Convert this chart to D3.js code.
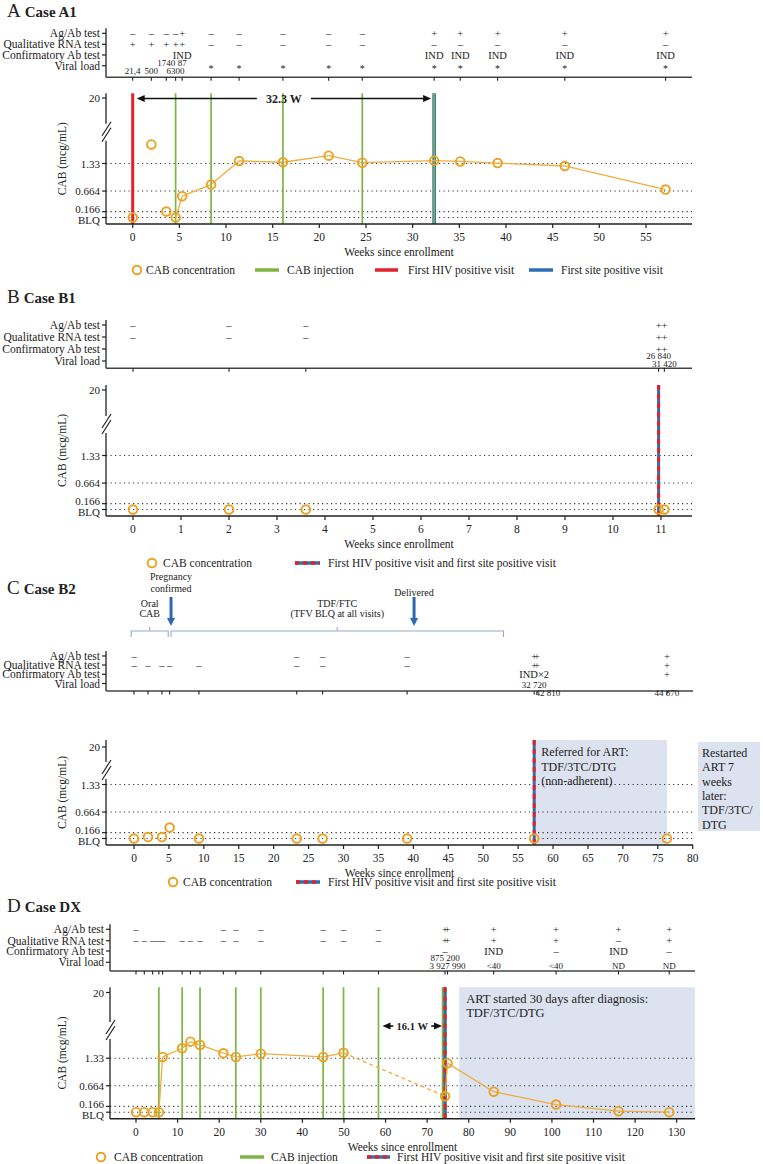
<!DOCTYPE html>
<html><head><meta charset="utf-8">
<script src="https://cdn.jsdelivr.net/npm/d3@7"></script>
<style>
body{margin:0;background:#fff}
text{font-family:"Liberation Serif","Times New Roman",serif;fill:#222}
</style>
</head><body>
<svg id="c" width="763" height="1164"></svg>
<script>
// ---------- shared ----------
const BLQ = 0.025;
const yTickVals = [BLQ, 0.166, 0.664, 1.33, 20];
const yTickLabels = ["BLQ", "0.166", "0.664", "1.33", "20"];
const refLines = [BLQ, 0.166, 0.664, 1.33];
const testRows = ["Ag/Ab test", "Qualitative RNA test", "Confirmatory Ab test", "Viral load"];

// ---------- Case A1 ----------
const A_visits  = [0, 2.0, 3.6, 4.6, 5.3, 8.4, 11.4, 16.1, 21.0, 24.6, 32.3, 35.1, 39.1, 46.3, 57.1];
const A_cab     = [BLQ, 1.79, 0.17, BLQ, 0.54, 0.82, 1.39, 1.36, 1.52, 1.35, 1.40, 1.38, 1.34, 1.27, 0.70];
const A_agab    = ["–","–","–","–","+","–","–","–","–","–","+","+","+","+","+"];
const A_rna     = ["+","+","+","+","+","–","–","–","–","–","–","–","–","–","–"];
const A_confirm = ["","","","","IND","","","","","","IND","IND","IND","IND","IND"];
const A_vl      = ["21,4","500","1740","6300","87","*","*","*","*","*","*","*","*","*","*"];
const A_vlLevel = [1,1,0,1,0,1,1,1,1,1,1,1,1,1,1];
const A_injections = [4.6, 8.4, 16.1, 24.6, 32.3];
const A_firstHIV = [0];
const A_firstSite = [32.3];
const A_xTicks = [0,5,10,15,20,25,30,35,40,45,50,55];
const A_interval = {from: 0, to: 32.3, label: "32.3 W"};

// ---------- Case B1 ----------
const B_visits  = [0, 2, 3.6, 10.95, 11.07];
const B_cab     = [BLQ, BLQ, BLQ, BLQ, BLQ];
const B_agab    = ["–","–","–","+","+"];
const B_rna     = ["–","–","–","+","+"];
const B_confirm = ["","","","+","+"];
const B_vl      = ["","","","26 840","31 420"];
const B_vlLevel = [1,1,1,0,1];
const B_firstBoth = [10.95];
const B_xTicks = [0,1,2,3,4,5,6,7,8,9,10,11];

// ---------- Case B2 ----------
const C_visits  = [0, 2, 4, 5.1, 9.3, 23.3, 27, 39.1, 57.3, 57.7, 76.3];
const C_cab     = [BLQ, 0.06, 0.06, 0.29, BLQ, BLQ, BLQ, BLQ, BLQ, null, BLQ];
const C_agab    = ["–","","","","","–","–","–","+","+","+"];
const C_rna     = ["–","–","–","–","–","–","–","–","+","+","+"];
const C_confirm = ["","","","","","","","","IND×2","","+"];
const C_vl      = ["","","","","","","","","32 720","42 810","44 870"];
const C_vlLevel = [1,1,1,1,1,1,1,1,0,1,1];
const C_vlDx    = [0,0,0,0,0,0,0,0,0,11,0];
const C_firstBoth = [57.3];
const C_xTicks = [0,5,10,15,20,25,30,35,40,45,50,55,60,65,70,75,80];
const C_artPeriod = [57.3, 76.3];
const C_artText = ["Referred for ART:", "TDF/3TC/DTG", "(non-adherent)"];
const C_restartText = ["Restarted", "ART 7", "weeks", "later:", "TDF/3TC/", "DTG"];
const C_periodStart = [-0.4, 5.3];
const C_periodEnd   = [4.9, 52.9];
const C_periodText  = [["Oral","CAB"], ["TDF/FTC","(TFV BLQ at all visits)"]];
const C_eventWeeks  = [5.3, 40.1];
const C_eventText   = [["Pregnancy","confirmed"], ["Delivered"]];

// ---------- Case DX ----------
const D_visits  = [0, 2, 4, 5.5, 6.4, 11.1, 13.1, 15.4, 21, 24, 30, 45, 49.9, 58.3, 74.3, 74.9, 86, 101, 116, 128.2];
const D_cab     = [BLQ, BLQ, BLQ, BLQ, 1.36, 1.57, 1.73, 1.65, 1.45, 1.36, 1.44, 1.36, 1.46, null, 0.41, 1.21, 0.52, 0.21, 0.05, BLQ];
const D_agab    = ["–","","","","","","","","–","–","–","–","–","–","+","+","+","+","+","+"];
const D_rna     = ["–","–","–","–","–","–","–","–","–","–","–","–","–","–","+","+","+","+","–","+"];
const D_confirm = ["","","","","","","","","","","","","","","–","","IND","–","IND","–"];
const D_vl      = ["","","","","","","","","","","","","","","875 200","3 927 990","<40","<40","ND","ND"];
const D_vlLevel = [1,1,1,1,1,1,1,1,1,1,1,1,1,1,0,1,1,1,1,1];
const D_injections = [5.5, 11.1, 15.4, 24, 30, 45, 49.9, 58.3, 74.3];
const D_firstBoth = [74.3];
const D_xTicks = [0,10,20,30,40,50,60,70,80,90,100,110,120,130];
const D_artStart = 77.7;
const D_artText = ["ART started 30 days after diagnosis:", "TDF/3TC/DTG"];
const D_interval = {from: 58.3, to: 74.3, label: "16.1 W"};

// ---------- colours ----------
const COL = {orange:"#EBA11F", oline:"#F1AC3E", green:"#7DB443", red:"#E1222A", blue:"#2D6DB5",
             shade:"#DCE2F0", bracket:"#97A8CC", evArrow:"#2E69B0", axis:"#222", dot:"#333"};

const svg = d3.select("#c");
svg.append("rect").attr("width",763).attr("height",1164).attr("fill","#fff");

function line(g, x1, y1, x2, y2, stroke, w, dash) {
  const l = g.append("line").attr("x1",x1).attr("y1",y1).attr("x2",x2).attr("y2",y2)
    .attr("stroke",stroke).attr("stroke-width",w);
  if (dash) l.attr("stroke-dasharray",dash);
  return l;
}
function text(g, x, y, s, size, anchor, weight) {
  return g.append("text").attr("x",x).attr("y",y).attr("font-size",size)
    .attr("text-anchor",anchor||"start").attr("dominant-baseline","central")
    .attr("font-weight",weight||"normal").text(s);
}
function comboLine(g, X, y1, y2, withGreen) {
  if (withGreen) line(g, X-0.8, y1, X-0.8, y2, COL.green, 5);
  line(g, X, y1, X, y2, COL.blue, 3);
  line(g, X, y1, X, y2, COL.red, 3, "5,4");
}
function arrowHead(g, xTip, yy, dir) {
  g.append("path").attr("d", `M${xTip},${yy} L${xTip-dir*8},${yy-3.5} L${xTip-dir*8},${yy+3.5} Z`).attr("fill","#111");
}
// symbols of close, identical visits are set as one string
function drawSymbols(g, arr, xs, yRow, size) {
  let i = 0;
  while (i < arr.length) {
    if (!arr[i]) { i++; continue; }
    let j = i;
    while (j + 1 < arr.length && arr[j+1] === arr[i] && xs[j+1] - xs[j] < 7.5) j++;
    if (j === i) {
      text(g, xs[i], yRow, arr[i], size, "middle").attr("fill","#111");
    } else {
      const n = j - i + 1;
      const probe = text(g, 0, yRow, arr[i], size, "start");
      const w = probe.node().getComputedTextLength(); probe.remove();
      const gap = (xs[j] - xs[i]) / (n - 1);
      text(g, xs[i] - w/2, yRow, arr[i].repeat(n), size, "start")
        .attr("letter-spacing", (gap - w).toFixed(2)).attr("fill","#111");
    }
    i = j + 1;
  }
}

function drawPanel(P) {
  const g = svg.append("g");
  const x = d3.scaleLinear().domain(P.domain).range([P.x0, P.x1]);
  const L = P.plot;
  const yBLQ = L.bottom - 6.5, y133 = L.bottom - 60.5;
  const slope = (yBLQ - y133) / (1.33 - BLQ);
  const brkVal = 1.33 + (y133 - L.brkY) / slope;
  const y = d3.scaleLinear().domain([BLQ, 1.33, brkVal, 20]).range([yBLQ, y133, L.brkY, L.y20]);

  // title (y = baseline)
  const tt = g.append("text").attr("x",7).attr("y",P.titleY);
  tt.append("tspan").attr("font-size",19).text(P.letter);
  tt.append("tspan").attr("dx",4).attr("font-size",15).attr("font-weight","bold").text(P.name);

  // ---- test table ----
  const T = P.table;
  line(g, P.x0, T.rows[0]-5, P.x0, T.axisY, COL.axis, 1.3);
  line(g, P.x0, T.axisY, P.x1, T.axisY, "#444", 1.6);
  testRows.forEach((lab, i) => {
    line(g, P.x0-4, T.rows[i], P.x0, T.rows[i], COL.axis, 1.2);
    text(g, P.x0-6, T.rows[i], lab, 11.5, "end");
  });
  const xs = P.visits.map(v => x(v));
  P.visits.forEach(v => line(g, x(v), T.axisY, x(v), T.axisY+3.5, COL.axis, 1.1));
  [P.agab, P.rna, P.confirm].forEach((arr, i) => drawSymbols(g, arr, xs, T.rows[i], 10.5));
  P.vl.forEach((s, j) => {
    if (!s) return;
    const dx = P.vlDx ? P.vlDx[j] : 0;
    if (s === "*") text(g, xs[j], T.rows[3]+3, s, 10, "middle").attr("fill","#555");
    else text(g, xs[j] + dx, T.vlY[P.vlLevel[j]], s, 9, "middle").attr("fill","#333");
  });

  // ---- plot ----
  if (P.shade) g.append("rect").attr("x", x(P.shade[0])).attr("y", L.top)
      .attr("width", x(P.shade[1]) - x(P.shade[0])).attr("height", L.bottom - L.top).attr("fill", COL.shade);
  refLines.forEach(v => line(g, P.x0, y(v), P.x1, y(v), COL.dot, 1.1, "1.2,3.3"));

  (P.injections || []).forEach(w => {
    if ((P.firstBoth || []).includes(w)) return;
    if ((P.firstSite || []).includes(w)) line(g, x(w), L.top, x(w), L.bottom, COL.blue, 3.6);
    line(g, x(w), L.top, x(w), L.bottom, COL.green, 1.7);
  });
  (P.firstHIV || []).forEach(w => line(g, x(w), L.top, x(w), L.bottom, COL.red, 3));
  (P.firstBoth || []).forEach(w => comboLine(g, x(w), L.top, L.bottom, (P.injections||[]).includes(w)));

  // CAB line (from first injection onward); dashed across visits without a sample
  if (P.injections && P.injections.length) {
    const first = d3.min(P.injections);
    const idx = P.visits.map((v, i) => i).filter(i => P.visits[i] >= first && P.cab[i] !== null);
    for (let k = 0; k < idx.length - 1; k++) {
      const a = idx[k], b = idx[k+1];
      let missing = false;
      for (let m = a+1; m < b; m++) if (P.cab[m] === null) missing = true;
      line(g, x(P.visits[a]), y(P.cab[a]), x(P.visits[b]), y(P.cab[b]), COL.oline, 1.3, missing ? "4,3" : null);
    }
  }
  P.visits.forEach((v, i) => {
    if (P.cab[i] === null) return;
    g.append("circle").attr("cx", x(v)).attr("cy", y(P.cab[i])).attr("r", 4.3)
      .attr("fill","none").attr("stroke", COL.orange).attr("stroke-width", 1.9);
  });

  // y axis with break
  line(g, P.x0, L.top, P.x0, L.brkY - 8, COL.axis, 1.3);
  line(g, P.x0, L.brkY + 9, P.x0, L.bottom, COL.axis, 1.3);
  [-3, 3].forEach(o => line(g, P.x0 - 4, L.brkY + o + 7, P.x0 + 5, L.brkY + o - 7, COL.axis, 1.2));
  const labelNudge = {"BLQ": 2.3, "0.166": -2.3};
  yTickVals.forEach((v, i) => {
    line(g, P.x0 - 4, y(v), P.x0, y(v), COL.axis, 1.2);
    text(g, P.x0 - 6, y(v) + (labelNudge[yTickLabels[i]] || 0), yTickLabels[i], 11, "end");
  });
  text(g, 0, 0, "CAB (mcg/mL)", 11.5, "middle")
    .attr("transform", `translate(${P.yTitleX},${(L.top + L.bottom)/2}) rotate(-90)`);

  // x axis
  line(g, P.x0, L.bottom, P.x1, L.bottom, COL.axis, 1.5);
  P.xTicks.forEach(t => {
    line(g, x(t), L.bottom, x(t), L.bottom + 4, COL.axis, 1.2);
    text(g, x(t), L.bottom + 13, String(t), 11.5, "middle").attr("fill","#333");
  });
  text(g, (P.x0 + P.x1)/2, L.bottom + 28, "Weeks since enrollment", 11.5, "middle");

  // interval arrow
  if (P.interval) {
    const yy = L.y20 + 0.5 + (P.intervalDy || 0);
    const xa = x(P.interval.from) + 4, xb = x(P.interval.to) - 3;
    const xm = (xa + xb) / 2 + (P.intervalTextDx || 0);
    const half = P.intervalGap;
    line(g, xa + 6, yy, xm - half, yy, "#111", 1.6);
    line(g, xm + half, yy, xb - 6, yy, "#111", 1.6);
    arrowHead(g, xa, yy, -1); arrowHead(g, xb, yy, 1);
    text(g, xm, yy, P.interval.label, P.intervalSize, "middle", "bold").attr("fill","#111");
  }
  return {g, x, y};
}

function legend(items, yy) {
  const g = svg.append("g");
  items.forEach(it => {
    if (it.type === "circle") g.append("circle").attr("cx", it.x).attr("cy", yy).attr("r", 4.3)
        .attr("fill","none").attr("stroke", COL.orange).attr("stroke-width", 1.9);
    else if (it.type === "combo") {
      line(g, it.x, yy, it.x2, yy, COL.blue, 3.5);
      line(g, it.x, yy, it.x2, yy, COL.red, 3.5, "4,4");
    } else line(g, it.x, yy, it.x2, yy, it.color, 3.5);
    text(g, it.tx, yy, it.label, 11.5, "start");
  });
}

// ---------- Panel A ----------
drawPanel({
  letter:"A", name:"Case A1", titleY:17,
  x0:106, x1:692, domain:[-2.86, 59.93],
  table:{rows:[33.3, 44.3, 55, 65.7], axisY:77.3, vlY:[62.7, 70.7]},
  plot:{top:93.3, bottom:224, y20:98, brkY:131.7},
  yTitleX:62,
  visits:A_visits, cab:A_cab, agab:A_agab, rna:A_rna, confirm:A_confirm, vl:A_vl, vlLevel:A_vlLevel,
  injections:A_injections, firstHIV:A_firstHIV, firstSite:A_firstSite, xTicks:A_xTicks,
  interval:A_interval, intervalGap:27, intervalSize:12
});
legend([
  {type:"circle", x:137, tx:146, label:"CAB concentration"},
  {type:"line", color:COL.green, x:255, x2:279, tx:287, label:"CAB injection"},
  {type:"line", color:COL.red, x:375, x2:398, tx:408, label:"First HIV positive visit"},
  {type:"line", color:COL.blue, x:529, x2:553, tx:561, label:"First site positive visit"}
], 270);

// ---------- Panel B ----------
drawPanel({
  letter:"B", name:"Case B1", titleY:303,
  x0:106, x1:692, domain:[-0.5625, 11.646],
  table:{rows:[325, 337, 349, 361], axisY:368.3, vlY:[355.5, 363.5]},
  plot:{top:385, bottom:516, y20:390, brkY:424},
  yTitleX:62,
  visits:B_visits, cab:B_cab, agab:B_agab, rna:B_rna, confirm:B_confirm, vl:B_vl, vlLevel:B_vlLevel,
  firstBoth:B_firstBoth, xTicks:B_xTicks
});
legend([
  {type:"circle", x:152, tx:163, label:"CAB concentration"},
  {type:"combo", x:295, x2:320, tx:328, label:"First HIV positive visit and first site positive visit"}
], 563);

// ---------- Panel C ----------
const pc = drawPanel({
  letter:"C", name:"Case B2", titleY:593.5,
  x0:106, x1:693, domain:[-4.01, 80.04],
  table:{rows:[656, 665, 674.3, 683.5], axisY:691, vlY:[684.5, 693]},
  plot:{top:740, bottom:845, y20:747, brkY:770},
  yTitleX:62,
  visits:C_visits, cab:C_cab, agab:C_agab, rna:C_rna, confirm:C_confirm, vl:C_vl, vlLevel:C_vlLevel, vlDx:C_vlDx,
  firstBoth:C_firstBoth, xTicks:C_xTicks, shade:C_artPeriod
});
(function(){
  const g = pc.g, x = pc.x;
  C_artText.forEach((s, i) => text(g, x(C_artPeriod[0]) + 7, 752 + i*14.5, s, 12, "start"));
  g.append("rect").attr("x", 698).attr("y", 742).attr("width", 62).attr("height", 89).attr("fill", COL.shade);
  C_restartText.forEach((s, i) => text(g, 702, 753 + i*14.3, s, 12, "start"));
  // periods (brackets)
  C_periodStart.forEach((s, i) => {
    const xa = x(s), xb = x(C_periodEnd[i]), xm = (xa + xb)/2, yb = 631;
    g.append("path").attr("d", `M${xa},${yb+6} L${xa},${yb} L${xb},${yb} L${xb},${yb+6} M${xm},${yb} L${xm},${yb-4}`)
      .attr("fill","none").attr("stroke", COL.bracket).attr("stroke-width", 1.1);
    C_periodText[i].forEach((t, k) => text(g, xm, 603 + k*10.5, t, 10, "middle").attr("fill","#333"));
  });
  // events (arrows)
  C_eventWeeks.forEach((w, i) => {
    const X = x(w);
    line(g, X, 597, X, 619, COL.evArrow, 3);
    g.append("path").attr("d", `M${X-4},${618} L${X+4},${618} L${X},${626} Z`).attr("fill", COL.evArrow);
    const lines = C_eventText[i];
    lines.forEach((t, k) => text(g, X, 592 - (lines.length - 1 - k)*11.5 + (lines.length > 1 ? -4 : 0), t, 10, "middle").attr("fill","#333"));
  });
})();
legend([
  {type:"circle", x:173, tx:183, label:"CAB concentration"},
  {type:"combo", x:296, x2:320, tx:328, label:"First HIV positive visit and first site positive visit"}
], 882);

// ---------- Panel D ----------
const pd = drawPanel({
  letter:"D", name:"Case DX", titleY:912,
  x0:110, x1:695, domain:[-6.25, 134.4],
  table:{rows:[929.3, 940.7, 951, 962.3], axisY:971, vlY:[957.8, 966.2]},
  plot:{top:987.3, bottom:1118.7, y20:992.5, brkY:1030},
  yTitleX:62,
  visits:D_visits, cab:D_cab, agab:D_agab, rna:D_rna, confirm:D_confirm, vl:D_vl, vlLevel:D_vlLevel,
  injections:D_injections, firstBoth:D_firstBoth, xTicks:D_xTicks,
  shade:[D_artStart, 134.4],
  interval:D_interval, intervalGap:19, intervalSize:10.5, intervalDy:33
});
(function(){
  const g = pd.g, x = pd.x;
  D_artText.forEach((s, i) => text(g, x(D_artStart) + 7, 999 + i*14, s, 12.5, "start"));
})();
legend([
  {type:"circle", x:101, tx:114, label:"CAB concentration"},
  {type:"line", color:COL.green, x:240, x2:264, tx:271, label:"CAB injection"},
  {type:"combo", x:367, x2:390, tx:397, label:"First HIV positive visit and first site positive visit"}
], 1157);
</script>
</body></html>
